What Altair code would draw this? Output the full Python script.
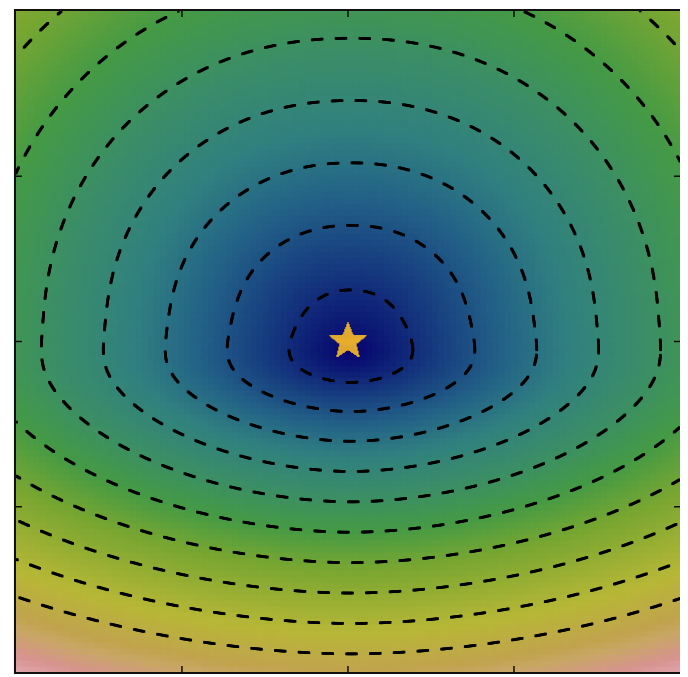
import numpy as np
import pandas as pd
import altair as alt

# ---------------- data ----------------
X_DOMAIN = [-2.0, 2.0]
Y_DOMAIN = [-2.0, 2.0]
TICK_VALUES = [-1.0, 0.0, 1.0]

STAR_X = 0.0
STAR_Y = 0.0
STAR_COLOR = '#f5b82a'

# contour levels, in units of the estimated "level distance"
LEVELS = [1, 2, 3, 4, 5, 6, 7, 8, 9, 10]

# estimated shape of the surface (data units)
APEX_X = 0.018
APEX_Y = -0.05
SCALE_X = 0.373      # horizontal spacing of one level
SCALE_UP = 0.377     # vertical spacing above the minimum
SCALE_DOWN = 0.184   # vertical spacing below the minimum
POWER_UP = 2.15
POWER_DOWN = 1.85
BLEND_Y = 0.09
BLEND_W = 0.22

# colour value = COLOR_BASE + COLOR_STEP * level
COLOR_BASE = 0.03
COLOR_STEP = 0.072

# gist_earth colormap segment data
GE_RED = [(0.0, 0.0), (0.2824, 0.1882), (0.4588, 0.2714), (0.5490, 0.4719),
          (0.6980, 0.7176), (0.7882, 0.7553), (1.0, 0.9922)]
GE_GREEN = [(0.0, 0.0), (0.0275, 0.0), (0.1098, 0.1893), (0.1647, 0.3035),
            (0.2078, 0.3841), (0.2824, 0.5020), (0.5216, 0.6397), (0.6980, 0.7171),
            (0.7882, 0.6392), (0.8157, 0.6549), (0.8667, 0.5765), (0.9059, 0.6510),
            (0.9333, 0.7451), (1.0, 0.9922)]
GE_BLUE = [(0.0, 0.0), (0.0039, 0.4190), (0.0784, 0.4641), (0.1373, 0.5037),
           (0.2078, 0.5296), (0.2824, 0.5020), (0.3686, 0.4087), (0.4588, 0.2714),
           (0.5490, 0.1904), (0.6980, 0.2135), (0.7882, 0.3061), (1.0, 0.9922)]

GRID_N = 110
W, H = 670, 667
PX_X = W / (X_DOMAIN[1] - X_DOMAIN[0])   # pixels per data unit
PX_Y = H / (Y_DOMAIN[1] - Y_DOMAIN[0])

DASH_ON, DASH_PERIOD, DASH_THICK = 11.0, 24.0, 2.7   # px
TICK_LEN, TICK_THICK = 6.0, 1.4                      # px
STAR_R, STAR_INNER = 20.0, 0.43                      # px, ratio


def level_field(x, y):
    dx = x - APEX_X
    dy = y - APEX_Y
    w = 0.5 * (1 + np.tanh((BLEND_Y - dy) / BLEND_W))
    s = SCALE_UP * (1 - w) + SCALE_DOWN * w
    p = POWER_UP * (1 - w) + POWER_DOWN * w
    a = np.abs(dx) / SCALE_X
    b = np.abs(dy) / s
    return (a ** p + b ** p) ** (1.0 / p)


def chan(seg, t):
    return np.interp(t, [s[0] for s in seg], [s[1] for s in seg])


stops = sorted(set([s[0] for s in GE_RED + GE_GREEN + GE_BLUE]))
stop_colors = []
for t in stops:
    r, g, b = chan(GE_RED, t), chan(GE_GREEN, t), chan(GE_BLUE, t)
    stop_colors.append('#%02x%02x%02x' % (int(round(r * 255)), int(round(g * 255)), int(round(b * 255))))
# value 1.5 is reserved for the star
scale_domain = stops + [1.5]
scale_range = stop_colors + [STAR_COLOR]

parts = []


def add_rects(xc, yc, half_w_px, half_h_px, v):
    xc = np.asarray(xc, dtype=float)
    yc = np.asarray(yc, dtype=float)
    hw = half_w_px / PX_X
    hh = half_h_px / PX_Y
    parts.append(pd.DataFrame({
        'x': np.round(xc - hw, 5), 'x2': np.round(xc + hw, 5),
        'y': np.round(yc - hh, 5), 'y2': np.round(yc + hh, 5),
        'v': np.round(np.broadcast_to(np.asarray(v, dtype=float), xc.shape).astype(float), 4),
    }))


# 1) heatmap cells
step = (X_DOMAIN[1] - X_DOMAIN[0]) / GRID_N
cs = X_DOMAIN[0] + step * (np.arange(GRID_N) + 0.5)
GX, GY = np.meshgrid(cs, cs)
V = np.clip(COLOR_BASE + COLOR_STEP * level_field(GX, GY), 0, 1)
add_rects(GX.ravel(), GY.ravel(), step * PX_X / 2 + 0.6, step * PX_Y / 2 + 0.6, V.ravel())

# 2) dashed contour lines (solved along rays from the minimum)
theta = np.linspace(0, 2 * np.pi, 2881)
for lev in LEVELS:
    lo = np.zeros_like(theta)
    hi = np.full_like(theta, 8.0)
    for _ in range(45):
        mid = (lo + hi) / 2
        val = level_field(APEX_X + mid * np.cos(theta), APEX_Y + mid * np.sin(theta))
        up = val > lev
        hi = np.where(up, mid, hi)
        lo = np.where(up, lo, mid)
    r = (lo + hi) / 2
    cx = APEX_X + r * np.cos(theta)
    cy = APEX_Y + r * np.sin(theta)
    ds = np.hypot(np.diff(cx) * PX_X, np.diff(cy) * PX_Y)
    s = np.concatenate([[0.0], np.cumsum(ds)])
    sk = np.arange(0.0, s[-1], 1.0)
    xk = np.interp(sk, s, cx)
    yk = np.interp(sk, s, cy)
    keep = ((sk % DASH_PERIOD) < DASH_ON) & (np.abs(xk) < 2.0) & (np.abs(yk) < 2.0)
    add_rects(xk[keep], yk[keep], DASH_THICK / 2, DASH_THICK / 2, 0.0)

# 3) inward ticks on all four sides
tv = np.array(TICK_VALUES)
add_rects(tv, np.full_like(tv, Y_DOMAIN[0] + TICK_LEN / 2 / PX_Y), TICK_THICK / 2, TICK_LEN / 2, 0.0)
add_rects(tv, np.full_like(tv, Y_DOMAIN[1] - TICK_LEN / 2 / PX_Y), TICK_THICK / 2, TICK_LEN / 2, 0.0)
add_rects(np.full_like(tv, X_DOMAIN[0] + TICK_LEN / 2 / PX_X), tv, TICK_LEN / 2, TICK_THICK / 2, 0.0)
add_rects(np.full_like(tv, X_DOMAIN[1] - TICK_LEN / 2 / PX_X), tv, TICK_LEN / 2, TICK_THICK / 2, 0.0)

# 4) the star marker, filled pixel by pixel
ang = np.pi / 2 + np.arange(10) * np.pi / 5
rad = np.where(np.arange(10) % 2 == 0, STAR_R, STAR_R * STAR_INNER)
vx = rad * np.cos(ang)
vy = rad * np.sin(ang)
gp = np.arange(-STAR_R, STAR_R + 1.0, 1.0)
PXs, PYs = np.meshgrid(gp, gp)
px_, py_ = PXs.ravel(), PYs.ravel()
inside = np.zeros(px_.shape, dtype=bool)
j = len(vx) - 1
with np.errstate(divide='ignore', invalid='ignore'):
    for i in range(len(vx)):
        cond = ((vy[i] > py_) != (vy[j] > py_)) & \
               (px_ < (vx[j] - vx[i]) * (py_ - vy[i]) / (vy[j] - vy[i]) + vx[i])
        inside ^= cond
        j = i
add_rects(STAR_X + px_[inside] / PX_X, STAR_Y + py_[inside] / PX_Y, 0.65, 0.65, 1.5)

all_df = pd.concat(parts, ignore_index=True)

# ---------------- chart ----------------
xsc = alt.Scale(domain=X_DOMAIN, nice=False, zero=False)
ysc = alt.Scale(domain=Y_DOMAIN, nice=False, zero=False)

chart = alt.Chart(all_df).mark_rect(clip=True, strokeWidth=0).encode(
    x=alt.X('x:Q', scale=xsc, axis=None),
    x2='x2:Q',
    y=alt.Y('y:Q', scale=ysc, axis=None),
    y2='y2:Q',
    color=alt.Color('v:Q', scale=alt.Scale(type='linear', domain=scale_domain,
                                             range=scale_range, interpolate='rgb'),
                    legend=None),
).properties(
    width=W, height=H,
    padding={'left': 8, 'top': 0, 'right': 0, 'bottom': 0},
).configure_view(stroke='#111111', strokeWidth=4)

chart.save("out.html", embed_options={"renderer": "svg", "actions": False})
